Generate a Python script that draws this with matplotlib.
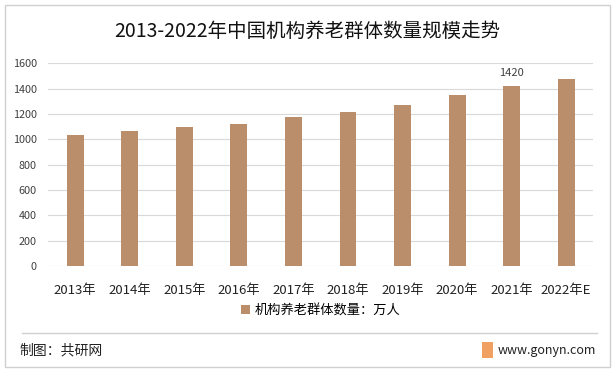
import matplotlib.pyplot as plt
from matplotlib.patches import Rectangle
from matplotlib.lines import Line2D

plt.rcParams['font.family'] = ['Noto Sans CJK SC', 'DejaVu Sans']

years = ["2013年", "2014年", "2015年", "2016年", "2017年",
         "2018年", "2019年", "2020年", "2021年", "2022年E"]
values = [1035, 1063, 1094, 1120, 1173, 1213, 1268, 1346, 1420, 1478]
yticks = [0, 200, 400, 600, 800, 1000, 1200, 1400, 1600]

fig = plt.figure(figsize=(6.15, 3.72), dpi=100)
ax = fig.add_axes([0.078, 0.285, 0.887, 0.545])

x = range(len(years))
bars = ax.bar(x, values, width=0.31, color="#BB8E6B", label="机构养老群体数量：万人", zorder=3)
ax.text(8, values[8] + 60, str(values[8]), ha="center", va="bottom", fontsize=8, color="#404040")

ax.set_ylim(0, 1600)
ax.set_yticks(yticks)
ax.set_xlim(-0.5, len(years) - 0.5)
ax.set_xticks(list(x))
ax.set_xticklabels(years, fontsize=9.5, color="#222222")
ax.tick_params(axis="y", labelsize=7.8, labelcolor="#404040", length=0, pad=8)
ax.tick_params(axis="x", length=0, pad=13)
ax.grid(axis="y", color="#D9D9D9", linewidth=0.8, zorder=0)
for s in ax.spines.values():
    s.set_visible(False)

ax.legend(loc="upper center", bbox_to_anchor=(0.5, -0.13), frameon=False,
          fontsize=9.5, handlelength=0.7, handleheight=0.7, handletextpad=0.3)

fig.text(0.5, 0.915, "2013-2022年中国机构养老群体数量规模走势", ha="center", va="center",
         fontsize=14, color="#111111")

# outer frame and footer
fig.patches.append(Rectangle((0.008, 0.013), 0.984, 0.974, transform=fig.transFigure,
                             fill=False, edgecolor="#D0D0D0", linewidth=1))
fig.lines.append(Line2D([0.035, 0.97], [0.105, 0.105], transform=fig.transFigure,
                        color="#D0D0D0", linewidth=1))
fig.text(0.032, 0.058, "制图：共研网", ha="left", va="center", fontsize=10, color="#222222")
fig.patches.append(Rectangle((0.783, 0.038), 0.019, 0.042, transform=fig.transFigure,
                             facecolor="#F0A060", edgecolor="none"))
fig.text(0.81, 0.058, "www.gonyn.com", ha="left", va="center", fontsize=9, color="#222222")

plt.savefig("out.png", dpi=100)
